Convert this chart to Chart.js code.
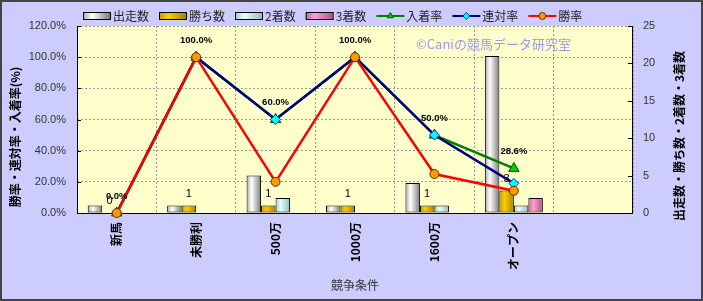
<!DOCTYPE html>
<html>
<head>
<meta charset="utf-8">
<script src="https://cdn.jsdelivr.net/npm/chart.js@4.4.0/dist/chart.umd.min.js"></script>
<style>
  html, body { margin: 0; padding: 0; background: #ccccff; }
  #wrap { width: 703px; height: 301px; position: relative; }
</style>
</head>
<body>
<div id="wrap"><canvas id="myChart"></canvas></div>
<script>
// data
const categories = ["新馬", "未勝利", "500万", "1000万", "1600万", "オープン", ""];
const starts = [1, 1, 5, 1, 4, 21, null];
const wins = [0, 1, 1, 1, 1, 3, null];
const seconds = [0, 0, 2, 0, 1, 1, null];
const thirds = [0, 0, 0, 0, 0, 2, null];
const placeRate = [0, 100, 60, 100, 50, 28.6, null];
const rentaiRate = [0, 100, 60, 100, 50, 19.0, null];
const winRate = [0, 100, 20, 100, 25, 14.3, null];
const rateTicks = [0, 20, 40, 60, 80, 100, 120];
const countTicks = [0, 5, 10, 15, 20, 25];

const JP = "'Noto Sans CJK JP', sans-serif";
const NUM = "'Liberation Sans', Arial, sans-serif";

// gradient stops for bars: edge, highlight, edge
const shades = [
  ["#a8a8a8", "#ffffff", "#7c7c7c"],
  ["#c49a00", "#ffcc00", "#a88300"],
  ["#9fcccc", "#e6ffff", "#8fbcbc"],
  ["#cc6699", "#ff9fd0", "#b0557f"],
];

function barGradient(ctx, x0, x1, s) {
  const g = ctx.createLinearGradient(x0, 0, x1, 0);
  g.addColorStop(0, s[0]);
  g.addColorStop(0.35, s[1]);
  g.addColorStop(1, s[2]);
  return g;
}

// background, plot area, watermark, labels, legend
const framePlugin = {
  id: "frame",
  beforeDraw(chart) {
    const { ctx, chartArea: a } = chart;
    ctx.save();
    ctx.fillStyle = "#ccccff";
    ctx.fillRect(0, 0, chart.width, chart.height);
    ctx.fillStyle = "#ffffcc";
    ctx.fillRect(a.left, a.top, a.right - a.left, a.bottom - a.top);
    ctx.restore();
  },
  beforeDatasetsDraw(chart) {
    const { ctx, chartArea: a } = chart;
    ctx.save();
    // axis lines
    ctx.strokeStyle = "#000";
    ctx.lineWidth = 1;
    ctx.beginPath();
    ctx.moveTo(a.left + 0.5, a.top);
    ctx.lineTo(a.left + 0.5, a.bottom + 0.5);
    ctx.lineTo(a.right - 0.5, a.bottom + 0.5);
    ctx.lineTo(a.right - 0.5, a.top);
    // inward ticks
    const y = chart.scales.y, y1 = chart.scales.y1;
    y.ticks.forEach(t => {
      const p = Math.round(y.getPixelForValue(t.value)) + 0.5;
      ctx.moveTo(a.left, p); ctx.lineTo(a.left + 4, p);
    });
    y1.ticks.forEach(t => {
      const p = Math.round(y1.getPixelForValue(t.value)) + 0.5;
      ctx.moveTo(a.right, p); ctx.lineTo(a.right - 5, p);
    });
    ctx.stroke();
    // watermark
    ctx.fillStyle = "#9a9aee";
    ctx.font = "13px " + JP;
    ctx.textAlign = "left";
    ctx.textBaseline = "middle";
    ctx.fillText("©Caniの競馬データ研究室", 416, 44);
    ctx.restore();

    chart.data.datasets.forEach((ds, i) => {
      if (ds.type === "line") return;
      chart.getDatasetMeta(i).data.forEach(el => {
        const { x, width } = el.getProps(["x", "width"], true);
        if (!isFinite(x)) return;
        const g = barGradient(ctx, x - width / 2, x + width / 2, shades[i]);
        el.options = Object.assign({}, el.options, { backgroundColor: g });
      });
    });
  },
  afterDatasetDraw(chart, args) {
    // count labels on the win bars (drawn under the lines)
    if (args.index !== 1) return;
    const { ctx } = chart;
    ctx.save();
    ctx.fillStyle = "#000";
    ctx.font = "11px " + NUM;
    ctx.textAlign = "center";
    ctx.textBaseline = "middle";
    args.meta.data.forEach((el, j) => {
      const v = wins[j];
      if (v === null) return;
      ctx.fillText(String(v), el.x, el.y - 12);
    });
    ctx.restore();
  },
  afterDatasetsDraw(chart) {
    const { ctx } = chart;
    ctx.save();
    ctx.fillStyle = "#000";
    ctx.font = "bold 9.5px " + NUM;
    ctx.textAlign = "center";
    ctx.textBaseline = "middle";
    chart.getDatasetMeta(4).data.forEach((el, j) => {
      const v = placeRate[j];
      if (v === null) return;
      ctx.fillText(v.toFixed(1) + "%", el.x, el.y - 17);
    });
    ctx.restore();
  },
  afterDraw(chart) {
    const { ctx } = chart;
    ctx.save();
    // axis titles
    ctx.fillStyle = "#000";
    ctx.textAlign = "center";
    ctx.textBaseline = "middle";
    ctx.font = "bold 12px " + JP;
    ctx.translate(15, 137);
    ctx.rotate(-Math.PI / 2);
    ctx.fillText("勝率・連対率・入着率(%)", 0, 0);
    ctx.setTransform(1, 0, 0, 1, 0, 0);
    ctx.translate(679, 136);
    ctx.rotate(-Math.PI / 2);
    ctx.fillText("出走数・勝ち数・2着数・3着数", 0, 0);
    ctx.setTransform(1, 0, 0, 1, 0, 0);
    ctx.fillStyle = "#333";
    ctx.font = "12px " + JP;
    ctx.fillText("競争条件", 355, 285);

    // legend
    let lx = 83;
    const ly = 16;
    ctx.textAlign = "left";
    chart.data.datasets.forEach((ds, i) => {
      if (ds.type === "line") {
        ctx.strokeStyle = ds.borderColor;
        ctx.lineWidth = 2;
        ctx.beginPath();
        ctx.moveTo(lx, ly); ctx.lineTo(lx + 28, ly);
        ctx.stroke();
        ctx.fillStyle = ds.pointBackgroundColor;
        ctx.strokeStyle = ds.pointBorderColor;
        ctx.lineWidth = 1;
        Chart.helpers.drawPoint(ctx, { pointStyle: ds.pointStyle, radius: 3.5, borderWidth: 1, rotation: 0 }, lx + 14, ly);
      } else {
        ctx.fillStyle = barGradient(ctx, lx, lx + 27, shades[i]);
        ctx.fillRect(lx, ly - 3, 27, 6);
        ctx.strokeStyle = "#000";
        ctx.lineWidth = 1;
        ctx.strokeRect(lx + 0.5, ly - 3.5, 27, 7);
      }
      lx += 30;
      ctx.fillStyle = "#222";
      ctx.font = "12px " + JP;
      ctx.fillText(ds.label, lx, ly);
      lx += ctx.measureText(ds.label).width + 10;
    });

    // outer border
    ctx.strokeStyle = "#444";
    ctx.lineWidth = 2;
    ctx.strokeRect(1, 1, chart.width - 2, chart.height - 2);
    ctx.restore();
  }
};

const barBase = {
  borderColor: "#000",
  borderWidth: 1,
  borderSkipped: false,
  barPercentage: 1,
  categoryPercentage: 0.73,
  yAxisID: "y1",
  order: 10,
};

const lineBase = {
  type: "line",
  yAxisID: "y",
  borderWidth: 2.5,
  tension: 0,
  fill: false,
  clip: false,
  pointBorderWidth: 1,
};

let mixedChart = new Chart(document.getElementById("myChart"), {
  type: "bar",
  data: {
    labels: categories,
    datasets: [
      Object.assign({}, barBase, { label: "出走数", data: starts, backgroundColor: "#ddd" }),
      Object.assign({}, barBase, { label: "勝ち数", data: wins, backgroundColor: "#fc0" }),
      Object.assign({}, barBase, { label: "2着数", data: seconds, backgroundColor: "#cff" }),
      Object.assign({}, barBase, { label: "3着数", data: thirds, backgroundColor: "#f9c" }),
      Object.assign({}, lineBase, {
        label: "入着率", data: placeRate, order: 3,
        borderColor: "#008000",
        pointStyle: "triangle", pointRadius: 6,
        pointBackgroundColor: "#00cc00", pointBorderColor: "#005500",
      }),
      Object.assign({}, lineBase, {
        label: "連対率", data: rentaiRate, order: 2,
        borderColor: "#000080",
        pointStyle: "rectRot", pointRadius: 5,
        pointBackgroundColor: "#00ffff", pointBorderColor: "#0033cc",
      }),
      Object.assign({}, lineBase, {
        label: "勝率", data: winRate, order: 1,
        borderColor: "#ff0000",
        pointStyle: "circle", pointRadius: 4.5,
        pointBackgroundColor: "#ff9900", pointBorderColor: "#663300",
      }),
    ],
  },
  options: {
    responsive: true,
    maintainAspectRatio: false,
    animation: false,
    layout: { padding: { top: 26, left: 0, right: 0, bottom: 0 } },
    plugins: {
      legend: { display: false },
      tooltip: { enabled: false },
    },
    scales: {
      x: {
        grid: { offset: true, color: "#999", drawTicks: false },
        border: { display: false, dash: [2, 2] },
        ticks: {
          autoSkip: false,
          minRotation: 90,
          maxRotation: 90,
          padding: 9,
          color: "#000",
          font: { family: JP, size: 12, weight: "bold" },
        },
        afterFit: s => { s.height = 88; },
      },
      y: {
        position: "left",
        min: 0,
        max: 120,
        afterBuildTicks: s => { s.ticks = rateTicks.map(v => ({ value: v })); },
        ticks: {
          padding: 11,
          color: "#333",
          font: { family: NUM, size: 11 },
          callback: v => Number(v).toFixed(1) + "%",
        },
        grid: { color: "#999", drawTicks: false },
        border: { display: false, dash: [2, 2] },
        afterFit: s => { s.width = 77; },
      },
      y1: {
        position: "right",
        min: 0,
        max: 25,
        afterBuildTicks: s => { s.ticks = countTicks.map(v => ({ value: v })); },
        ticks: {
          padding: 10,
          color: "#333",
          font: { family: NUM, size: 11 },
        },
        grid: { drawOnChartArea: false, drawTicks: false },
        border: { display: false },
        afterFit: s => { s.width = 70; },
      },
    },
  },
  plugins: [framePlugin],
});
</script>
</body>
</html>
